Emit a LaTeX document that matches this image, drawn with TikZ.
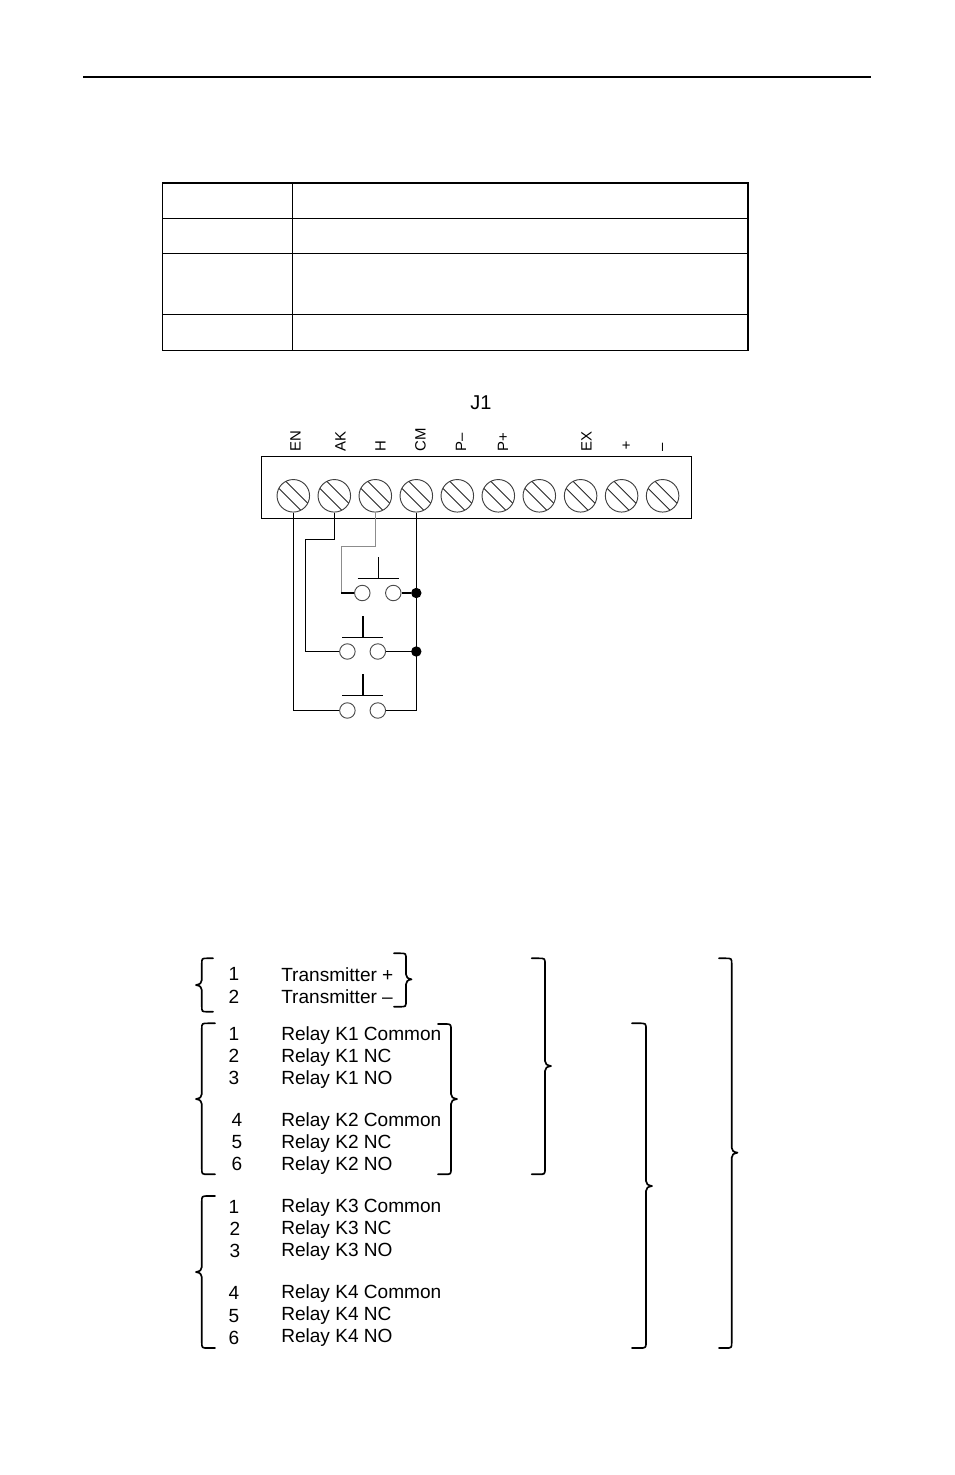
\documentclass[tikz,border=0pt]{standalone}
\usepackage{fontspec}
\setmainfont{Liberation Sans}
\begin{document}
\begin{tikzpicture}[x=0.75pt,y=-0.75pt,
  lbl/.style={inner sep=0pt,font=\fontsize{14.3pt}{16pt}\selectfont},
  txt/.style={lbl,anchor=base west},
  num/.style={lbl,anchor=base},
  pinlbl/.style={inner sep=0pt,font=\fontsize{11.2pt}{12pt}\selectfont,rotate=90,anchor=base west},
  wire/.style={draw=black,line width=1.05pt},
  bracestyle/.style={draw=black,line width=1.25pt,line cap=round,line join=round},
  tbl/.style={draw=black,line width=0.9pt},
  screw/.style={circle,draw=black!75,line width=0.7pt,minimum size=24.4pt,inner sep=0pt},
  contact/.style={circle,draw=black!70,line width=0.7pt,fill=white,minimum size=11.6pt,inner sep=0pt},
  dot/.style={circle,fill=black,minimum size=7.8pt,inner sep=0pt}]
\useasboundingbox (0,0) rectangle (954,1475);
\fill[white] (0,0) rectangle (954,1475);
% header rule
\coordinate (ruleL) at (83,76.5); \coordinate (ruleR) at (871,76.5);
\draw[line width=1.5pt] (ruleL) -- (ruleR);
% table
\draw[tbl] (162.5,183) rectangle (748,350.5);
\draw[tbl] (292.5,183) -- (292.5,350.5);
\foreach \y in {218.5,253.5,314.5} \draw[tbl] (162.5,\y) -- (748,\y);
% J1
\node[inner sep=0pt,font=\fontsize{15pt}{16pt}\selectfont] (j1) at (481,402.7) {J1};
\node[draw=black,line width=1pt,minimum width=322.5pt,minimum height=46.2pt,inner sep=0pt] (tb) at (476.5,487.5) {};
\foreach \i/\x in {1/293.3,2/334.3,3/375.3,4/416.3,5/457.3,6/498.3,7/539.3,8/580.6,9/621.6,10/662.6}{
  \node[screw] (s\i) at (\x,495.8) {};
  \draw[black!85,line width=0.65pt] (\x-7.3,481.5) -- (\x+14.3,503.1);
  \draw[black!85,line width=0.65pt] (\x-14.3,488.5) -- (\x+7.3,510.1);
}
\foreach \x/\t in {300.7/EN,345.5/AK,385.5/H,425.5/CM,466/P--,508/P+,591.5/EX}
  \node[pinlbl] at (\x,451.8) {\t};
\node[inner sep=0pt,font=\fontsize{11.2pt}{12pt}\selectfont] (plus) at (626.3,446.5) {+};
\node[inner sep=0pt,font=\fontsize{11.2pt}{12pt}\selectfont,rotate=90] (minus) at (664.3,447) {--};
% contacts
\node[contact] (a1) at (362.3,593) {}; \node[contact] (a2) at (393.3,593) {};
\node[contact] (b1) at (347.4,651.5) {}; \node[contact] (b2) at (377.8,651.5) {};
\node[contact] (c1) at (347.4,710.5) {}; \node[contact] (c2) at (377.8,710.5) {};
\node[dot] (d1) at (416.3,593) {}; \node[dot] (d2) at (416.3,651.5) {};
% push-button bars
\foreach \x/\y in {378.2/578.3,362.8/637.3,362.8/695.3}{
  \draw[wire] (\x-20.5,\y) -- (\x+20.5,\y);
  \draw[wire] (\x,\y) -- (\x,\y-21);
}
% wiring
\coordinate (akA) at (334.3,539.3); \coordinate (akB) at (305.3,539.3);
\coordinate (hA) at (375.3,546.7); \coordinate (hB) at (341.3,546.7); \coordinate (hC) at (341.3,593);
\draw[wire] (s1.south) |- (c1.west);
\draw[wire] (s2.south) -- (akA) -- (akB) |- (b1.west);
\draw[draw=black!45,line width=1.05pt] (s3.south) -- (hA) -- (hB) -- (hC);
\draw[wire] (hC) -- (a1.west);
\draw[wire] (s4.south) |- (c2.east);
\draw[wire] (a2.east) -- (d1);
\draw[wire] (b2.east) -- (d2);
% texts
\foreach \y/\t in {981/Transmitter +,1003/Transmitter --,1040/Relay K1 Common,1062/Relay K1 NC,1084/Relay K1 NO,1126/Relay K2 Common,1148/Relay K2 NC,1170/Relay K2 NO,1212/Relay K3 Common,1234/Relay K3 NC,1256/Relay K3 NO,1298/Relay K4 Common,1320/Relay K4 NC,1342/Relay K4 NO}
  \node[txt] at (281,\y) {\t};
\foreach \x/\y/\t in {234/980/1,234/1003/2,234/1040/1,234/1062/2,234/1084/3,237/1126/4,237/1148/5,237/1170/6,234/1213/1,235/1235/2,235/1257/3,234/1299/4,234/1322/5,234/1344/6}
  \node[num] at (\x,\y) {\t};
% braces: end x, spine x, tip x, top, mid, bottom
\foreach \e/\s/\t/\a/\m/\b in {213/201.8/196/958.3/985/1011.7, 215/201.8/196/1023.3/1099/1174.3, 215/201.8/196/1196/1272/1348,
  394/406/411.5/953.3/979.3/1006.7, 438/451/457/1024/1099/1174.3, 531.7/545/551/958.3/1066/1174.3, 632/646/652/1023.3/1186/1348, 719/731.7/737.5/958.3/1152.7/1348}{
  \draw[bracestyle] (\e,\a) -- ({\s+(\e-\s)*0.5},\a) .. controls (\s,\a) and (\s,\a) .. (\s,\a+6)
    -- (\s,\m-5) .. controls (\s,\m-2) and ({\s+(\t-\s)*0.3},\m-0.8) .. (\t,\m)
    .. controls ({\s+(\t-\s)*0.3},\m+0.8) and (\s,\m+2) .. (\s,\m+5)
    -- (\s,\b-6) .. controls (\s,\b) and (\s,\b) .. ({\s+(\e-\s)*0.5},\b) -- (\e,\b);
}
\end{tikzpicture}
\end{document}
